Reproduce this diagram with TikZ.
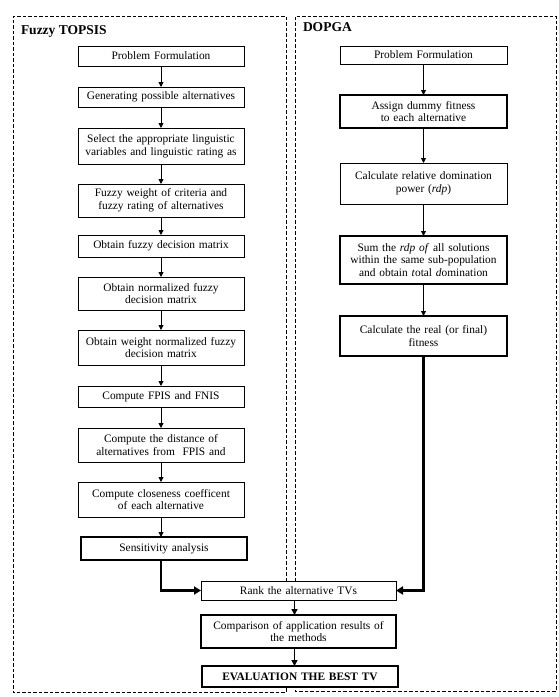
\documentclass[tikz,border=0pt]{standalone}
\usepackage{fontspec}
\setmainfont{Liberation Serif}
\usetikzlibrary{arrows.meta}
\begin{document}
\begin{tikzpicture}[x=1pt,y=-1pt,
  every node/.style={inner sep=0pt,outer sep=0pt},
  pbox/.style={draw,line width=0.9pt,align=center,font=\fontsize{11.4}{12.7}\selectfont,fill=white},
  lbox/.style={pbox,minimum width=166pt,text width=160pt},
  rbox/.style={pbox,minimum width=167pt,text width=160pt},
  bbox/.style={pbox,minimum width=195pt,text width=190pt},
  heavy/.style={line width=1.6pt},
  thin arr/.style={line width=0.9pt,-{Triangle[width=5pt,length=5pt]}},
  mid arr/.style={line width=1.5pt,-{Triangle[width=6pt,length=6pt]}},
  thick arr/.style={line width=2.6pt,-{Triangle[width=8pt,length=7pt]}},
  frame/.style={draw,line width=0.8pt,dash pattern=on 3.5pt off 2pt},
  title/.style={font=\fontsize{13.5}{15}\selectfont\bfseries,anchor=west}]
\useasboundingbox (0,0) rectangle (558,697);
% frames
\draw[frame] (286,581) -- (286,16) -- (13,16) -- (13,692) -- (286,692) -- (286,687);
\draw[frame] (295,581) -- (295,16) -- (556,16) -- (556,691) -- (295,691) -- (295,687);
\node[title] (t1) at (21,31) {Fuzzy TOPSIS};
\node[title] (t2) at (303,27) {DOPGA};
% left column
\node[lbox,minimum height=20pt] (b1) at (161,56) {Problem Formulation};
\node[lbox,minimum height=20pt] (b2) at (161,97) {Generating possible alternatives};
\node[lbox,minimum height=36pt] (b3) at (161,146) {Select the appropriate linguistic\\variables and linguistic rating as};
\node[lbox,minimum height=33pt] (b4) at (161,200.5) {Fuzzy weight of criteria and\\fuzzy rating of alternatives};
\node[lbox,minimum height=22pt] (b5) at (161,246) {Obtain fuzzy decision matrix};
\node[lbox,minimum height=33pt] (b6) at (161,293.5) {Obtain normalized fuzzy\\decision matrix};
\node[lbox,minimum height=35pt] (b7) at (161,347.5) {Obtain weight normalized fuzzy\\decision matrix};
\node[lbox,minimum height=21pt] (b8) at (161,396.5) {Compute FPIS and FNIS};
\node[lbox,minimum height=34pt] (b9) at (161,445) {Compute the distance of\\alternatives from\ \ FPIS and};
\node[lbox,minimum height=35pt] (b10) at (161,499.5) {Compute closeness coefficent\\of each alternative};
\node[lbox,heavy,minimum height=23pt] (b11) at (164,548.5) {Sensitivity analysis};
% right column
\node[rbox,minimum height=18pt] (r1) at (423.5,55) {Problem Formulation};
\node[rbox,heavy,minimum height=33pt] (r2) at (423.5,111.5) {Assign dummy fitness\\to each alternative};
\node[rbox,minimum height=41pt] (r3) at (423.5,183.5) {Calculate relative domination\\power (\textit{rdp})};
\node[rbox,heavy,minimum height=48pt] (r4) at (423.5,260) {Sum the \textit{rdp of} all solutions\\within the same sub-population\\and obtain \textit{t}otal \textit{d}omination};
\node[rbox,line width=1.2pt,minimum height=40pt] (r5) at (423.5,336) {Calculate the real (or final)\\fitness};
% bottom
\node[bbox,minimum height=19pt] (rank) at (298.5,590.5) {Rank the alternative TVs};
\node[bbox,heavy,minimum height=33pt] (cmp) at (298.5,631.5) {Comparison of application results of\\the methods};
\node[bbox,line width=1.8pt,minimum height=21pt,minimum width=196pt,font=\fontsize{11.4}{12.7}\selectfont\bfseries] (ev) at (300,676.5) {EVALUATION THE BEST TV};
% arrows left
\foreach \a/\b in {b1/b2,b2/b3,b3/b4,b4/b5,b5/b6,b6/b7,b7/b8,b8/b9,b9/b10}
  \draw[thin arr] (\a.south) -- (\b.north);
\draw[thin arr] (b10.south) -- (b10.south |- b11.north);
% arrows right
\foreach \a/\b in {r1/r2,r2/r3,r3/r4,r4/r5}
  \draw[thin arr] (\a.south) -- (\b.north);
% to rank
\draw[thick arr] (b10.south |- b11.south) |- (rank.west);
\draw[thick arr] (r5.south) |- (rank.east);
\draw[mid arr] ([xshift=-4pt]rank.south) -- ([xshift=-4pt]rank.south |- cmp.north);
\draw[mid arr] ([xshift=-4pt]cmp.south) -- ([xshift=-4pt]cmp.south |- ev.north);
\end{tikzpicture}
\end{document}
